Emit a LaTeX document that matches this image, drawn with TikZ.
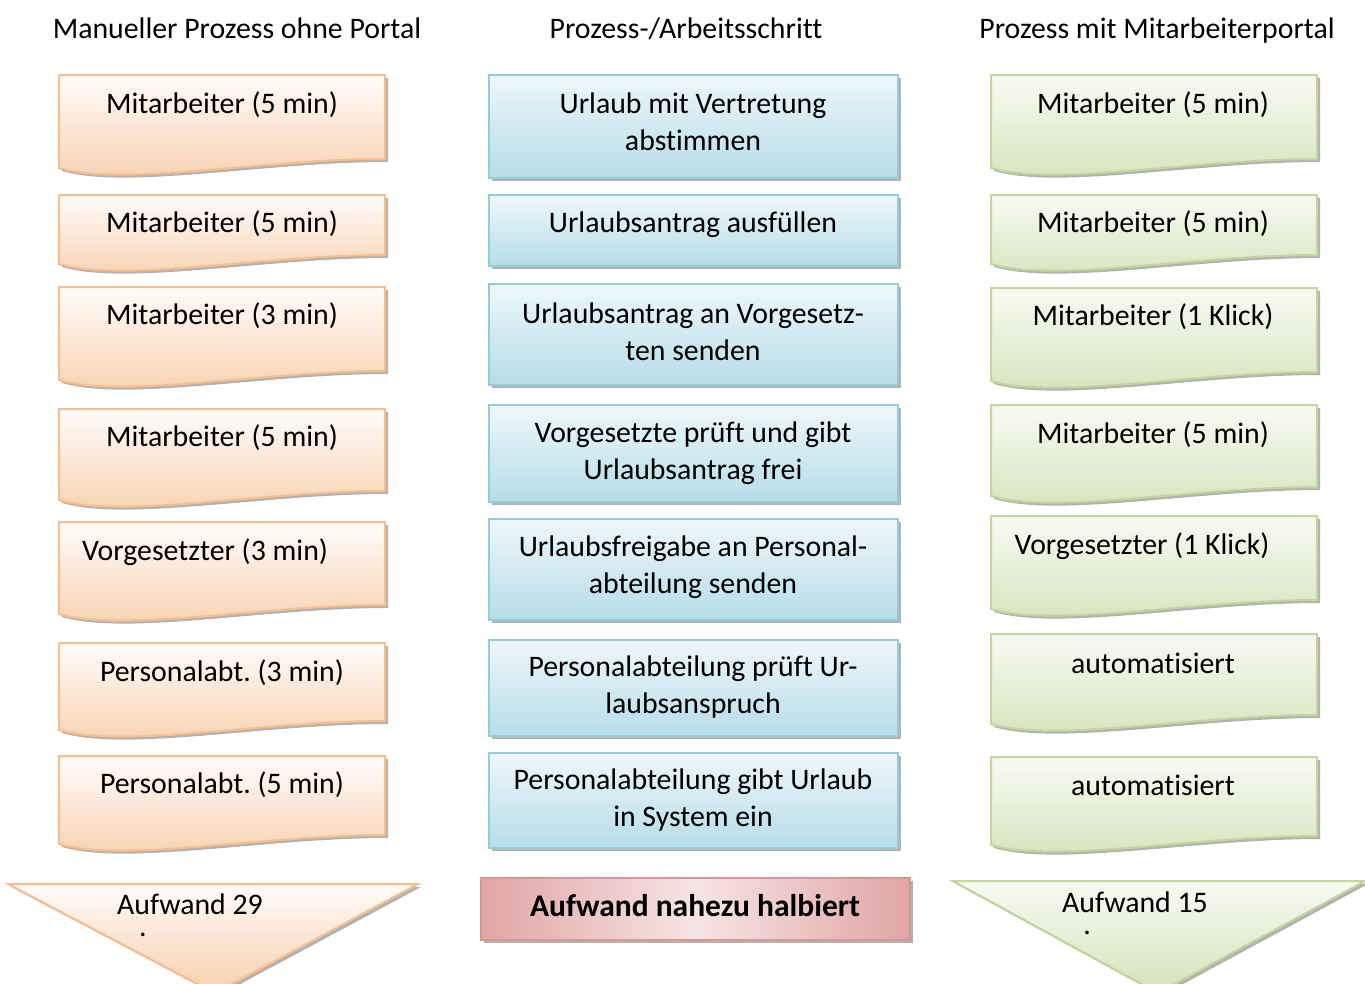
\documentclass[tikz,border=0pt]{standalone}
\usepackage{fontspec}
\setmainfont[Ligatures={NoCommon}]{Carlito}
\definecolor{orgB}{HTML}{F9BE8E}
\definecolor{orgT}{HTML}{FFFCFA}
\definecolor{orgD}{HTML}{F8CFAC}
\definecolor{bluB}{HTML}{92CDDC}
\definecolor{bluT}{HTML}{EEF7FA}
\definecolor{bluD}{HTML}{B6DDE8}
\definecolor{grnB}{HTML}{C3D69B}
\definecolor{grnT}{HTML}{F8FAF3}
\definecolor{grnD}{HTML}{D5E3BA}
\definecolor{redB}{HTML}{D99694}
\definecolor{redD}{HTML}{E0A5A4}
\definecolor{redL}{HTML}{F6E4E4}
\newcommand\docshape[5]{%
 \fill[shad] ({#2+3},{#3+3}) -- ({#4+3},{#3+3}) -- ({#4+3},{#5+3}) .. controls ({#2+0.62*(#4-#2)+3},{#5+3}) and ({#2+0.2*(#4-#2)+3},{#5+31}) .. ({#2+3},{#5+12}) -- cycle;
 \path[#1] (#2,#3) -- (#4,#3) -- (#4,#5) .. controls ({#2+0.62*(#4-#2)},{#5}) and ({#2+0.2*(#4-#2)},{#5+28}) .. (#2,{#5+9}) -- cycle;}
\newcommand\recshape[5]{%
 \fill[shad] ({#2+3},{#3+3}) rectangle ({#4+3},{#5+3});
 \path[#1] (#2,#3) rectangle (#4,#5);}
\begin{document}
\frenchspacing
\begin{tikzpicture}[x=1pt,y=-1pt,
  every node/.style={font=\fontsize{29.8}{37}\selectfont, inner sep=0pt},
  orgbox/.style={draw=orgB, line width=2pt, top color=orgT, bottom color=orgD},
  blubox/.style={draw=bluB, line width=2pt, top color=bluT, bottom color=bluD},
  grnbox/.style={draw=grnB, line width=2pt, top color=grnT, bottom color=grnD},
  redbox/.style={draw=redB, line width=2pt, left color=redD, right color=redD, middle color=redL},
  shad/.style={fill=black, fill opacity=0.3, draw=none},
  lbl/.style={anchor=base},
  mid/.style={align=center}]
\useasboundingbox (0,0) rectangle (1365,983);

% headers
\node[lbl] (h1) at (237,38) {Manueller Prozess ohne Portal};
\node[lbl] (h2) at (686,38) {Prozess-/Arbeitsschritt};
\node[lbl] (h3) at (1157,38) {Prozess mit Mitarbeiterportal};

% left column
\docshape{orgbox}{59}{75}{385}{159}
\docshape{orgbox}{59}{195}{385}{255}
\docshape{orgbox}{59}{287}{385}{371}
\docshape{orgbox}{59}{409}{385}{491}
\docshape{orgbox}{59}{522}{385}{605}
\docshape{orgbox}{59}{643}{385}{721}
\docshape{orgbox}{59}{756}{385}{835}
\node[lbl] (l1) at (222,113) {Mitarbeiter (5 min)};
\node[lbl] (l2) at (222,232) {Mitarbeiter (5 min)};
\node[lbl] (l3) at (222,324) {Mitarbeiter (3 min)};
\node[lbl] (l4) at (222,446) {Mitarbeiter (5 min)};
\node[lbl] (l5) at (205,560) {Vorgesetzter (3 min)};
\node[lbl] (l6) at (222,681) {Personalabt. (3 min)};
\node[lbl] (l7) at (222,793) {Personalabt. (5 min)};

% middle column
\recshape{blubox}{489}{75}{898}{178}
\recshape{blubox}{489}{195}{898}{266}
\recshape{blubox}{489}{284}{898}{385}
\recshape{blubox}{489}{405}{898}{502}
\recshape{blubox}{489}{519}{898}{620}
\recshape{blubox}{489}{640}{898}{736}
\recshape{blubox}{489}{753}{898}{848}
\node[mid] (m1) at (693,122) {Urlaub mit Vertretung\\abstimmen};
\node[lbl] (m2) at (693,232) {Urlaubsantrag ausfüllen};
\node[mid] (m3) at (693,332) {Urlaubsantrag an Vorgesetz-\\ten senden};
\node[mid] (m4) at (693,453) {Vorgesetzte prüft und gibt\\Urlaubsantrag frei};
\node[mid] (m5) at (693,567) {Urlaubsfreigabe an Personal-\\abteilung senden};
\node[mid] (m6) at (693,687) {Personalabteilung prüft Ur-\\laubsanspruch};
\node[mid] (m7) at (693,800) {Personalabteilung gibt Urlaub\\in System ein};

% right column
\docshape{grnbox}{991}{75}{1317}{159}
\docshape{grnbox}{991}{195}{1317}{255}
\docshape{grnbox}{991}{288}{1317}{372}
\docshape{grnbox}{991}{405}{1317}{487}
\docshape{grnbox}{991}{516}{1317}{600}
\docshape{grnbox}{991}{634}{1317}{715}
\docshape{grnbox}{991}{757}{1317}{836}
\node[lbl] (r1) at (1153,113) {Mitarbeiter (5 min)};
\node[lbl] (r2) at (1153,232) {Mitarbeiter (5 min)};
\node[lbl] (r3) at (1153,325) {Mitarbeiter (1 Klick)};
\node[lbl] (r4) at (1153,443) {Mitarbeiter (5 min)};
\node[lbl] (r5) at (1142,554) {Vorgesetzter (1 Klick)};
\node[lbl] (r6) at (1153,673) {automatisiert};
\node[lbl] (r7) at (1153,795) {automatisiert};

% bottom
\fill[shad] (11,887) -- (421,887) -- (218,996) -- cycle;
\path[orgbox] (8,884) -- (418,884) -- (215,993) -- cycle;
\node[lbl] (t1) at (190,914) {Aufwand 29};
\node[lbl] (d1) at (143,936) {.};

\recshape{redbox}{481}{878}{910}{940}
\node[lbl, font=\fontsize{31.5}{37}\selectfont\bfseries] (red) at (695,916) {Aufwand nahezu halbiert};

\fill[shad] (956,884) -- (1368,884) -- (1161,996) -- cycle;
\path[grnbox] (953,881) -- (1365,881) -- (1158,993) -- cycle;
\node[lbl] (t2) at (1135,912) {Aufwand 15};
\node[lbl] (d2) at (1087,934) {.};
\end{tikzpicture}
\end{document}
